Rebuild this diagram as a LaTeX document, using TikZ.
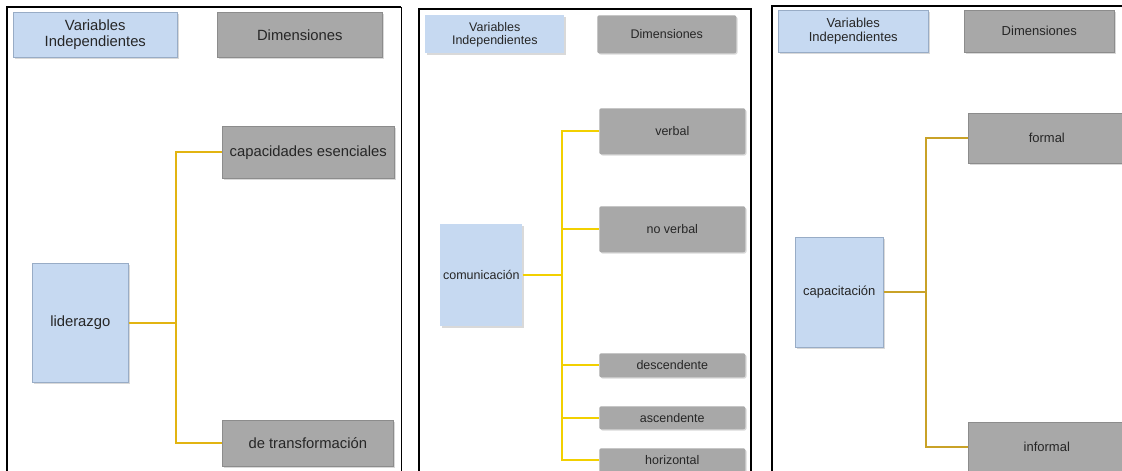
\documentclass[tikz,border=0pt]{standalone}
\usepackage{fontspec}
\setmainfont{Liberation Sans}
\usepackage{xcolor}
\usetikzlibrary{positioning, shadows}
\definecolor{varblue}{HTML}{C6D9F1}
\definecolor{varborder}{HTML}{98ACC6}
\definecolor{dimgray}{HTML}{A8A8A8}
\definecolor{dimborder}{HTML}{8C8C8C}
\definecolor{lineyel}{HTML}{E2B411}
\definecolor{linebright}{HTML}{F2D000}
\definecolor{linegold}{HTML}{C9A227}

\tikzset{
  varbox/.style={fill=varblue, draw=varborder, line width=0.6pt, inner sep=0pt,
    anchor=north west, align=center, text=black!85,
    drop shadow={shadow xshift=1.2pt, shadow yshift=-1.2pt, opacity=.3}},
  dimbox/.style={fill=dimgray, draw=dimborder, line width=0.6pt, inner sep=0pt,
    anchor=north west, align=center, text=black!85,
    drop shadow={shadow xshift=1.2pt, shadow yshift=-1.2pt, opacity=.3}},
  conn/.style={draw=lineyel, line width=2pt},
  frame/.style={draw=black, line width=1.8pt},
  fa/.style={font=\fontsize{14.8}{16}\selectfont},
  fb/.style={font=\fontsize{12.5}{13}\selectfont},
  fc/.style={font=\fontsize{13}{14}\selectfont}
}

\begin{document}
\begin{tikzpicture}[x=1pt, y=-1pt]
  \useasboundingbox (0,0) rectangle (1122,471);

  % panel frames
  \draw[frame] (7,472) |- (401,7);
  \draw[line width=1pt] (401,7) -- (401,472);
  \draw[frame, line width=2.4pt] (419,472) |- (751,9) -- (751,472);
  \draw[frame] (772,472) |- (1123,6);

  % --- liderazgo
  \node[varbox, fa, minimum width=164, minimum height=45] (vi1) at (13,12) {Variables\\Independientes};
  \node[dimbox, fa, minimum width=165, minimum height=45] (dim1) at (217,12) {Dimensiones};
  \node[dimbox, fa, minimum width=172, minimum height=52] (capes) at (222,126) {capacidades esenciales};
  \node[varbox, fa, minimum width=96, minimum height=119] (lid) at (32,263) {liderazgo};
  \node[dimbox, fa, minimum width=171, minimum height=46] (detrans) at (222,420) {de transformación};
  \coordinate (j1) at (176,0 |- lid.east);
  \draw[conn] (lid.east) -- (j1);
  \draw[conn] (j1) |- (capes.west);
  \draw[conn] (j1) |- (detrans.west);

  % --- comunicación
  \node[varbox, fb, draw=none, minimum width=139, minimum height=38] (vi2) at (425,15) {Variables\\Independientes};
  \node[dimbox, fb, draw=none, rounded corners=2pt, minimum width=139, minimum height=38] (dim2) at (597,15) {Dimensiones};
  \node[dimbox, fb, draw=none, rounded corners=2pt, minimum width=146, minimum height=46] (verb) at (599,108) {verbal};
  \node[dimbox, fb, draw=none, rounded corners=2pt, minimum width=146, minimum height=46] (noverb) at (599,206) {no verbal};
  \node[varbox, fb, draw=none, minimum width=82, minimum height=102] (com) at (440,224) {comunicación};
  \node[dimbox, fb, draw=none, rounded corners=2pt, minimum width=146, minimum height=24] (desc) at (599,353) {descendente};
  \node[dimbox, fb, draw=none, rounded corners=2pt, minimum width=146, minimum height=23] (asc) at (599,406) {ascendente};
  \node[dimbox, fb, draw=none, rounded corners=2pt, minimum width=146, minimum height=24] (horiz) at (599,448) {horizontal};
  \coordinate (j2) at (562,0 |- com.east);
  \draw[conn, draw=linebright] (com.east) -- (j2);
  \foreach \d in {verb, noverb, desc, asc, horiz}
    \draw[conn, draw=linebright] (j2) |- (\d.west);

  % --- capacitación
  \node[varbox, fc, minimum width=150, minimum height=42] (vi3) at (778,10) {Variables\\Independientes};
  \node[dimbox, fc, minimum width=150, minimum height=42] (dim3) at (964,10) {Dimensiones};
  \node[dimbox, fc, minimum width=157, minimum height=50] (formal) at (968,113) {formal};
  \node[varbox, fc, minimum width=88, minimum height=110] (capac) at (795,237) {capacitación};
  \node[dimbox, fc, minimum width=157, minimum height=50] (informal) at (968,422) {informal};
  \coordinate (j3) at (926,0 |- capac.east);
  \draw[conn, draw=linegold] (capac.east) -- (j3);
  \draw[conn, draw=linegold] (j3) |- (formal.west);
  \draw[conn, draw=linegold] (j3) |- (informal.west);
\end{tikzpicture}
\end{document}
